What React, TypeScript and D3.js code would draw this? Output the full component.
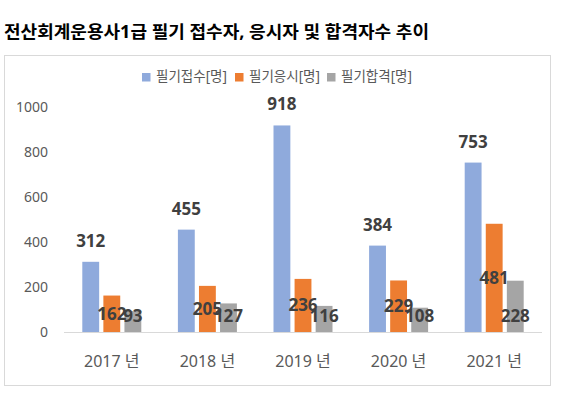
import { useEffect, useRef } from 'react';
import * as d3 from 'd3';

const years = ['2017 년', '2018 년', '2019 년', '2020 년', '2021 년'];
const seriesNames = ['필기접수[명]', '필기응시[명]', '필기합격[명]'];
const applied = [312, 455, 918, 384, 753];
const tookExam = [162, 205, 236, 229, 481];
const passed = [93, 127, 116, 108, 228];
const yTicks = [0, 200, 400, 600, 800, 1000];
const colors = ['#8faadc', '#ed7d31', '#a5a5a5'];

const title = '전산회계운용사1급 필기 접수자, 응시자 및 합격자수 추이';
const font = '"Noto Sans", "Noto Sans CJK KR", sans-serif';

const App = () => {
  const svgRef = useRef<SVGSVGElement>(null);

  useEffect(() => {
    if (!svgRef.current) return;
    const width = 561;
    const height = 398;
    const svg = d3.select(svgRef.current);
    svg.selectAll('*').remove();
    svg.attr('width', width).attr('height', height);

    svg.append('rect').attr('width', width).attr('height', height).attr('fill', '#fff');

    // title
    svg.append('text')
      .attr('x', 4)
      .attr('y', 38)
      .attr('font-family', font)
      .attr('font-weight', 'bold')
      .attr('font-size', 17.5)
      .attr('textLength', 425)
      .attr('lengthAdjust', 'spacingAndGlyphs')
      .attr('fill', '#000')
      .text(title);

    // chart box
    svg.append('rect')
      .attr('x', 4.5)
      .attr('y', 55.5)
      .attr('width', 546)
      .attr('height', 330)
      .attr('fill', 'none')
      .attr('stroke', '#d9d9d9');

    const series = [applied, tookExam, passed];
    const x = d3.scaleBand().domain(years).range([64, 542]);
    const inner = d3.scaleBand<number>().domain([0, 1, 2]).range([-29.5, 29.5]).paddingInner(0.2);
    const y = d3.scaleLinear().domain([0, 1000]).range([332, 107]);

    // y tick labels
    svg.append('g')
      .selectAll('text')
      .data(yTicks)
      .join('text')
      .attr('x', 48)
      .attr('y', d => y(d))
      .attr('dy', '0.35em')
      .attr('text-anchor', 'end')
      .attr('font-family', font)
      .attr('font-size', 14)
      .attr('fill', '#595959')
      .text(d => d);

    // baseline
    svg.append('line')
      .attr('x1', 64).attr('x2', 542)
      .attr('y1', y(0) + 0.5).attr('y2', y(0) + 0.5)
      .attr('stroke', '#d9d9d9');

    // bars
    series.forEach((vals, si) => {
      svg.append('g')
        .selectAll('rect')
        .data(vals)
        .join('rect')
        .attr('x', (_, i) => (x(years[i]) ?? 0) + x.bandwidth() / 2 + (inner(si) ?? 0))
        .attr('y', d => y(d))
        .attr('width', inner.bandwidth())
        .attr('height', d => y(0) - y(d))
        .attr('fill', colors[si]);
    });

    const labelAttrs = (sel: d3.Selection<SVGTextElement, number, SVGGElement, unknown>, si: number) =>
      sel
        .attr('x', (_, i) => (x(years[i]) ?? 0) + x.bandwidth() / 2 + (inner(si) ?? 0) + inner.bandwidth() / 2)
        .attr('text-anchor', 'middle')
        .attr('font-family', font)
        .attr('font-weight', 'bold')
        .attr('font-size', 17)
        .attr('fill', '#404040')
        .text(d => d);

    // applied: above the bar
    labelAttrs(svg.append('g').selectAll<SVGTextElement, number>('text').data(applied).join('text'), 0)
      .attr('y', d => y(d) - 15);
    // took exam: middle of the bar
    labelAttrs(svg.append('g').selectAll<SVGTextElement, number>('text').data(tookExam).join('text'), 1)
      .attr('y', d => (y(d) + y(0)) / 2)
      .attr('dy', '0.35em');
    // passed: inside base
    labelAttrs(svg.append('g').selectAll<SVGTextElement, number>('text').data(passed).join('text'), 2)
      .attr('y', y(0) - 16)
      .attr('dy', '0.35em');

    // category labels
    svg.append('g')
      .selectAll('text')
      .data(years)
      .join('text')
      .attr('x', d => (x(d) ?? 0) + x.bandwidth() / 2)
      .attr('y', 367)
      .attr('text-anchor', 'middle')
      .attr('font-family', font)
      .attr('font-size', 16)
      .attr('fill', '#595959')
      .text(d => d);

    // legend
    const legendX = [142, 235, 327];
    const legend = svg.append('g');
    seriesNames.forEach((name, i) => {
      legend.append('rect')
        .attr('x', legendX[i])
        .attr('y', 73)
        .attr('width', 8.5)
        .attr('height', 8.5)
        .attr('fill', colors[i]);
      legend.append('text')
        .attr('x', legendX[i] + 14)
        .attr('y', 81)
        .attr('font-family', font)
        .attr('font-size', 13.5)
        .attr('fill', '#595959')
        .text(name);
    });
  }, []);

  return <svg ref={svgRef} style={{ position: 'absolute', left: 0, top: 0 }}></svg>;
};

export default App;
